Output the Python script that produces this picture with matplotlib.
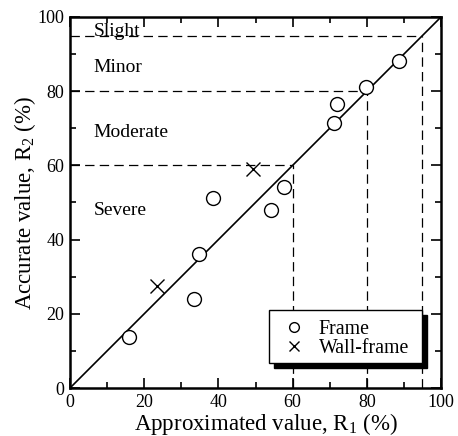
import matplotlib
matplotlib.use("Agg")
import matplotlib.pyplot as plt
from matplotlib.patches import Rectangle
from matplotlib.ticker import MultipleLocator

plt.rcParams['font.family'] = ['Liberation Serif', 'DejaVu Serif']
plt.rcParams['mathtext.fontset'] = 'custom'
plt.rcParams['mathtext.rm'] = 'Liberation Serif'
plt.rcParams['mathtext.it'] = 'Liberation Serif:italic'

frame_r1 = [16.0, 33.4, 34.8, 38.5, 54.1, 57.7, 71.1, 71.9, 79.9, 88.8]
frame_r2 = [13.7, 24.1, 36.0, 51.3, 48.1, 54.1, 71.5, 76.6, 81.1, 88.2]
wall_r1 = [23.5, 49.4]
wall_r2 = [27.5, 58.9]
thresholds = [60, 80, 95]
zone_labels = ["Slight", "Minor", "Moderate", "Severe"]
zone_label_y = [96.1, 86.3, 68.8, 47.8]

fig = plt.figure(figsize=(4.58, 4.36), dpi=100)
ax = fig.add_axes([70/458, 48/436, 371/458, 371/436])
ax.set_xlim(0, 100)
ax.set_ylim(0, 100)

ax.plot([0, 100], [0, 100], color='black', lw=1.2, zorder=2)
for t in thresholds:
    ax.plot([0, t], [t, t], color='black', lw=0.9, ls=(0, (7.5, 4.2)), zorder=1)
    ax.plot([t, t], [0, t], color='black', lw=0.9, ls=(0, (7.5, 4.2)), zorder=1)

for lab, yy in zip(zone_labels, zone_label_y):
    ax.text(6.3, yy, lab, fontsize=14, va='center', ha='left', zorder=3)

ax.plot(frame_r1, frame_r2, ls='none', marker='o', ms=10, mfc='white',
        mec='black', mew=1.0, label='Frame', zorder=4)
ax.plot(wall_r1, wall_r2, ls='none', marker='x', ms=10, mec='black',
        mew=1.0, label='Wall-frame', zorder=4)

ax.xaxis.set_major_locator(MultipleLocator(20))
ax.yaxis.set_major_locator(MultipleLocator(20))
ax.xaxis.set_minor_locator(MultipleLocator(10))
ax.yaxis.set_minor_locator(MultipleLocator(10))
ax.tick_params(which='both', direction='in', top=True, right=True,
               width=1.2, labelsize=13, colors='black')
ax.tick_params(which='major', length=7, pad=4)
ax.tick_params(which='minor', length=4)
for s in ax.spines.values():
    s.set_linewidth(1.8)

ax.set_xlabel(r'Approximated value, R$_\mathrm{1}$ (%)', fontsize=16.5, labelpad=0)
ax.xaxis.label.set_x(0.528)
ax.set_ylabel(r'Accurate value, R$_\mathrm{2}$ (%)', fontsize=16.5, labelpad=0)

# legend box (frame + black shadow), drawn in axes data space
box_x0, box_x1, box_y0, box_y1 = 53.6, 94.9, 6.7, 21.0
sh = 1.35
ax.add_patch(Rectangle((box_x0 + sh, box_y0 - sh), box_x1 - box_x0, box_y1 - box_y0,
                       facecolor='black', edgecolor='black', lw=1.0, zorder=8))
ax.add_patch(Rectangle((box_x0, box_y0), box_x1 - box_x0, box_y1 - box_y0,
                       facecolor='white', edgecolor='black', lw=1.0, zorder=9))

leg = ax.legend(loc='upper left', bbox_to_anchor=(57.9, 18.25),
                bbox_transform=ax.transData, frameon=False,
                fontsize=14.3, handletextpad=0.75, markerscale=0.7,
                borderpad=0.0, borderaxespad=0.0, labelspacing=0.0,
                handlelength=0.95)
leg.set_zorder(10)

fig.savefig('out.png', dpi=100)
